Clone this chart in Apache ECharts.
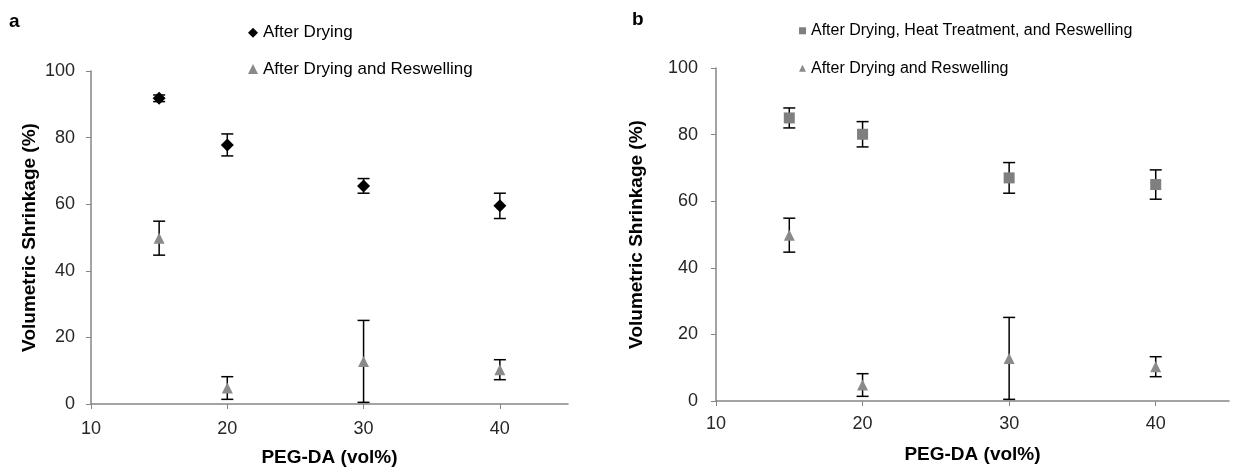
<!DOCTYPE html>
<html>
<head>
  <title>Volumetric Shrinkage</title>
  <script src="https://cdn.jsdelivr.net/npm/echarts@6/dist/echarts.min.js"></script>
  <style>
    html, body { margin: 0; padding: 0; background: #fff; }
  </style>
</head>
<body>
  <div id="main" style="width: 1249px; height: 475px;"></div>

  <script>
    // PEG-DA content (vol%)
    const pegda = [15, 20, 30, 40];
    const xTicks = [10, 20, 30, 40];

    // panel a
    const dryMean = [91.8, 77.8, 65.5, 59.5];
    const dryErr = [1.0, 3.3, 2.2, 3.8];
    // shared between panels a and b
    const reswellMean = [49.8, 4.8, 12.8, 10.3];
    const reswellErr = [5.1, 3.4, 12.3, 3.0];
    // panel b
    const heatMean = [85.0, 80.1, 67.0, 65.0];
    const heatErr = [3.0, 3.8, 4.6, 4.4];

    const chart = echarts.init(document.getElementById('main'));
    const font = 'Liberation Sans, Arial, sans-serif';

    const pts = (m) => pegda.map((x, i) => [x, m[i]]);
    const bars = (m, e) => pegda.map((x, i) => [x, m[i] - e[i], m[i] + e[i]]);

    function errorBar(params, api) {
      const lo = api.coord([api.value(0), api.value(1)]);
      const hi = api.coord([api.value(0), api.value(2)]);
      const w = 6;
      const style = { stroke: '#000', lineWidth: 1.5 };
      return {
        type: 'group',
        children: [
          { type: 'line', shape: { x1: lo[0], y1: lo[1], x2: hi[0], y2: hi[1] }, style },
          { type: 'line', shape: { x1: lo[0] - w, y1: lo[1], x2: lo[0] + w, y2: lo[1] }, style },
          { type: 'line', shape: { x1: hi[0] - w, y1: hi[1], x2: hi[0] + w, y2: hi[1] }, style }
        ]
      };
    }

    const axisLine = { lineStyle: { color: '#868686', width: 1.5 } };
    const nameStyle = { fontFamily: font, fontSize: 19, fontWeight: 'bold', color: '#000' };
    const labelStyle = { fontFamily: font, fontSize: 18, color: '#262626' };

    function xAxis(idx, gap, margin) {
      return {
        gridIndex: idx, type: 'value', min: 10, max: 45, interval: 10,
        name: 'PEG-DA (vol%)', nameLocation: 'middle', nameGap: gap, nameMoveOverlap: false,
        nameTextStyle: nameStyle,
        axisLine: axisLine,
        axisTick: { show: true, length: 5, customValues: xTicks, lineStyle: { color: '#868686' } },
        axisLabel: Object.assign({ customValues: xTicks, margin: margin }, labelStyle),
        splitLine: { show: false }
      };
    }
    function yAxis(idx, gap, margin) {
      return {
        gridIndex: idx, type: 'value', min: 0, max: 100, interval: 20,
        name: 'Volumetric Shrinkage (%)', nameLocation: 'middle', nameGap: gap, nameMoveOverlap: false,
        nameTextStyle: nameStyle,
        axisLine: axisLine,
        axisTick: { show: true, length: 5, lineStyle: { color: '#868686' } },
        axisLabel: Object.assign({ margin: margin }, labelStyle),
        splitLine: { show: false }
      };
    }

    chart.setOption({
      animation: false,
      title: [
        { text: 'a', left: 4, top: 0, textStyle: { fontFamily: font, fontSize: 19, fontWeight: 'bold', color: '#000' } },
        { text: 'b', left: 627, top: -2, textStyle: { fontFamily: font, fontSize: 19, fontWeight: 'bold', color: '#000' } }
      ],
      legend: [
        {
          data: ['After Drying', 'After Drying and Reswelling'],
          orient: 'vertical', left: 243, top: 13, itemGap: 7,
          itemWidth: 10, itemHeight: 10, itemStyle: { borderWidth: 0 },
          textStyle: { fontFamily: font, fontSize: 17, color: '#000' }
        },
        {
          data: ['After Drying, Heat Treatment, and Reswelling', 'After Drying and Reswelling '],
          orient: 'vertical', left: 794, top: 12, itemGap: 10,
          itemWidth: 7, itemHeight: 7, itemStyle: { borderWidth: 0 },
          textStyle: { fontFamily: font, fontSize: 16, color: '#000' }
        }
      ],
      grid: [
        { left: 91, top: 71, width: 477, height: 333, outerBoundsMode: 'none' },
        { left: 716, top: 68, width: 513, height: 333, outerBoundsMode: 'none' }
      ],
      xAxis: [xAxis(0, 37, 10), xAxis(1, 37, 8)],
      yAxis: [yAxis(0, 45, 16), yAxis(1, 63, 18)],
      series: [
        { type: 'custom', xAxisIndex: 0, yAxisIndex: 0, renderItem: errorBar, data: bars(dryMean, dryErr), z: 1 },
        { type: 'custom', xAxisIndex: 0, yAxisIndex: 0, renderItem: errorBar, data: bars(reswellMean, reswellErr), z: 1 },
        { type: 'custom', xAxisIndex: 1, yAxisIndex: 1, renderItem: errorBar, data: bars(heatMean, heatErr), z: 1 },
        { type: 'custom', xAxisIndex: 1, yAxisIndex: 1, renderItem: errorBar, data: bars(reswellMean, reswellErr), z: 1 },
        {
          name: 'After Drying', type: 'scatter', xAxisIndex: 0, yAxisIndex: 0,
          symbol: 'diamond', symbolSize: 13, itemStyle: { color: '#000', opacity: 1 },
          data: pts(dryMean), z: 3
        },
        {
          name: 'After Drying and Reswelling', type: 'scatter', xAxisIndex: 0, yAxisIndex: 0,
          symbol: 'triangle', symbolSize: 11, itemStyle: { color: '#8a8a8a', opacity: 1 },
          data: pts(reswellMean), z: 3
        },
        {
          name: 'After Drying, Heat Treatment, and Reswelling', type: 'scatter', xAxisIndex: 1, yAxisIndex: 1,
          symbol: 'rect', symbolSize: 11, itemStyle: { color: '#7f7f7f', opacity: 1 },
          data: pts(heatMean), z: 3
        },
        {
          name: 'After Drying and Reswelling ', type: 'scatter', xAxisIndex: 1, yAxisIndex: 1,
          symbol: 'triangle', symbolSize: 11, itemStyle: { color: '#8a8a8a', opacity: 1 },
          data: pts(reswellMean), z: 3
        }
      ]
    });
  </script>
</body>
</html>
